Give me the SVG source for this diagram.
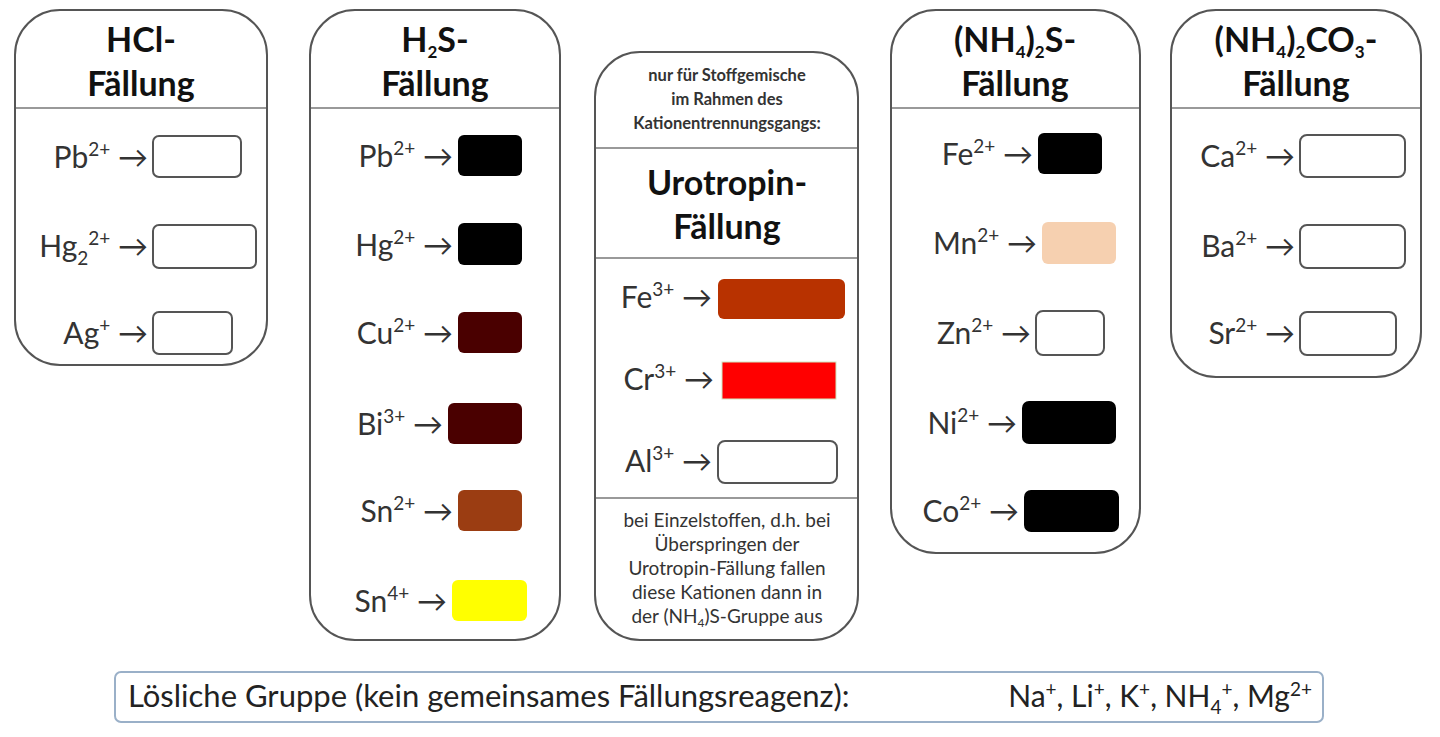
<svg xmlns="http://www.w3.org/2000/svg" width="1440" height="737" viewBox="0 0 1440 737">
<style>
.panel{fill:#fff;stroke:#555;stroke-width:2}
.div{stroke:#999;stroke-width:2}
.t{font-family:Lato,"Open Sans",sans-serif;font-weight:bold;font-size:34px;fill:#111;text-anchor:middle}
.l{font-family:Lato,"Open Sans",sans-serif;font-size:30px;fill:#333;text-anchor:end}
.s{font-family:Lato,"Open Sans",sans-serif;font-size:19px;fill:#333;text-anchor:middle}
.sb{font-family:Lato,"Open Sans",sans-serif;font-size:16.5px;font-weight:bold;fill:#333;text-anchor:middle}
.box{stroke:#555;stroke-width:2}
.sup{font-size:19px}
.sub{font-size:17px}
</style>
<rect width="1440" height="737" fill="#fff"/>
<g id="hcl">
<rect class="panel" x="15" y="10" width="252" height="355" rx="45"/>
<line class="div" x1="16" y1="108" x2="266" y2="108"/>
<text class="t" x="141" y="52">HCl-</text><text class="t" x="141" y="96">Fällung</text>
<text class="l" x="148" y="168">Pb<tspan class="sup" dy="-12">2+</tspan><tspan dy="12"> →</tspan></text>
<rect class="box" x="153" y="136" width="88" height="41" rx="6" fill="#fff"/>
<text class="l" x="148" y="257">Hg<tspan class="sup" dy="8">2</tspan><tspan class="sup" dy="-20">2+</tspan><tspan dy="12"> →</tspan></text>
<rect class="box" x="153" y="225" width="103" height="43" rx="6" fill="#fff"/>
<text class="l" x="148" y="344">Ag<tspan class="sup" dy="-12">+</tspan><tspan dy="12"> →</tspan></text>
<rect class="box" x="153" y="312" width="79" height="42" rx="6" fill="#fff"/>
</g>
<g id="h2s">
<rect class="panel" x="310" y="10" width="250" height="630" rx="45"/>
<line class="div" x1="311" y1="108" x2="559" y2="108"/>
<text class="t" x="435" y="52">H<tspan class="sub" dy="6">2</tspan><tspan dy="-6">S-</tspan></text><text class="t" x="435" y="96">Fällung</text>
<text class="l" x="453" y="167">Pb<tspan class="sup" dy="-12">2+</tspan><tspan dy="12"> →</tspan></text>
<rect x="458" y="135" width="64" height="41" rx="6" fill="#000"/>
<text class="l" x="453" y="256">Hg<tspan class="sup" dy="-12">2+</tspan><tspan dy="12"> →</tspan></text>
<rect x="458" y="223" width="64" height="42" rx="6" fill="#000"/>
<text class="l" x="453" y="344">Cu<tspan class="sup" dy="-12">2+</tspan><tspan dy="12"> →</tspan></text>
<rect x="458" y="312" width="64" height="41" rx="6" fill="#4a0000"/>
<text class="l" x="443" y="435">Bi<tspan class="sup" dy="-12">3+</tspan><tspan dy="12"> →</tspan></text>
<rect x="448" y="403" width="74" height="41" rx="6" fill="#4a0000"/>
<text class="l" x="453" y="522">Sn<tspan class="sup" dy="-12">2+</tspan><tspan dy="12"> →</tspan></text>
<rect x="458" y="490" width="64" height="41" rx="6" fill="#9b3d12"/>
<text class="l" x="447" y="612">Sn<tspan class="sup" dy="-12">4+</tspan><tspan dy="12"> →</tspan></text>
<rect x="452" y="580" width="75" height="41" rx="6" fill="#ffff00"/>
</g>
<g id="urotropin">
<rect class="panel" x="595" y="52" width="263" height="588" rx="45"/>
<line class="div" x1="596" y1="148" x2="857" y2="148"/>
<line class="div" x1="596" y1="258" x2="857" y2="258"/>
<line class="div" x1="596" y1="498" x2="857" y2="498"/>
<text class="sb" x="727" y="81">nur für Stoffgemische</text>
<text class="sb" x="727" y="105">im Rahmen des</text>
<text class="sb" x="727" y="129">Kationentrennungsgangs:</text>
<text class="t" x="727" y="195">Urotropin-</text><text class="t" x="727" y="239">Fällung</text>
<text class="l" x="712" y="308">Fe<tspan class="sup" dy="-12">3+</tspan><tspan dy="12"> →</tspan></text>
<rect x="718" y="279" width="127" height="40" rx="6" fill="#b83200"/>
<text class="l" x="714" y="390">Cr<tspan class="sup" dy="-12">3+</tspan><tspan dy="12"> →</tspan></text>
<rect x="722" y="362" width="114" height="37" fill="#ff0000" stroke="#cde8c0" stroke-width="1"/>
<text class="l" x="712" y="472">Al<tspan class="sup" dy="-12">3+</tspan><tspan dy="12"> →</tspan></text>
<rect class="box" x="718" y="441" width="119" height="42" rx="7" fill="#fff"/>
<text class="s" x="727" y="527">bei Einzelstoffen, d.h. bei</text>
<text class="s" x="727" y="551">Überspringen der</text>
<text class="s" x="727" y="575">Urotropin-Fällung fallen</text>
<text class="s" x="727" y="599">diese Kationen dann in</text>
<text class="s" x="727" y="623">der (NH<tspan font-size="12" dy="4">4</tspan><tspan dy="-4">)S-Gruppe aus</tspan></text>
</g>
<g id="nh4s">
<rect class="panel" x="891" y="10" width="249" height="543" rx="45"/>
<line class="div" x1="892" y1="108" x2="1139" y2="108"/>
<text class="t" x="1015" y="52">(NH<tspan class="sub" dy="6">4</tspan><tspan dy="-6">)</tspan><tspan class="sub" dy="6">2</tspan><tspan dy="-6">S-</tspan></text><text class="t" x="1015" y="96">Fällung</text>
<text class="l" x="1033" y="165">Fe<tspan class="sup" dy="-12">2+</tspan><tspan dy="12"> →</tspan></text>
<rect x="1038" y="133" width="64" height="41" rx="6" fill="#000"/>
<text class="l" x="1037" y="254">Mn<tspan class="sup" dy="-12">2+</tspan><tspan dy="12"> →</tspan></text>
<rect x="1042" y="222" width="74" height="42" rx="6" fill="#f6d0b0"/>
<text class="l" x="1031" y="344">Zn<tspan class="sup" dy="-12">2+</tspan><tspan dy="12"> →</tspan></text>
<rect class="box" x="1036" y="311" width="68" height="44" rx="7" fill="#fff"/>
<text class="l" x="1017" y="434">Ni<tspan class="sup" dy="-12">2+</tspan><tspan dy="12"> →</tspan></text>
<rect x="1022" y="401" width="94" height="43" rx="7" fill="#000"/>
<text class="l" x="1019" y="522">Co<tspan class="sup" dy="-12">2+</tspan><tspan dy="12"> →</tspan></text>
<rect x="1024" y="490" width="95" height="42" rx="7" fill="#000"/>
</g>
<g id="nh4co3">
<rect class="panel" x="1171" y="10" width="250" height="367" rx="45"/>
<line class="div" x1="1172" y1="108" x2="1420" y2="108"/>
<text class="t" x="1296" y="52">(NH<tspan class="sub" dy="6">4</tspan><tspan dy="-6">)</tspan><tspan class="sub" dy="6">2</tspan><tspan dy="-6">CO</tspan><tspan class="sub" dy="6">3</tspan><tspan dy="-6">-</tspan></text><text class="t" x="1296" y="96">Fällung</text>
<text class="l" x="1295" y="167">Ca<tspan class="sup" dy="-12">2+</tspan><tspan dy="12"> →</tspan></text>
<rect class="box" x="1300" y="135" width="105" height="42" rx="7" fill="#fff"/>
<text class="l" x="1295" y="257">Ba<tspan class="sup" dy="-12">2+</tspan><tspan dy="12"> →</tspan></text>
<rect class="box" x="1300" y="225" width="105" height="43" rx="7" fill="#fff"/>
<text class="l" x="1295" y="344">Sr<tspan class="sup" dy="-12">2+</tspan><tspan dy="12"> →</tspan></text>
<rect class="box" x="1300" y="312" width="96" height="43" rx="7" fill="#fff"/>
</g>
<g id="loesliche">
<rect x="115" y="672" width="1208" height="50" rx="6" fill="#fff" stroke="#9ab0c8" stroke-width="2"/>
<text font-family="Lato,'Open Sans',sans-serif" font-size="31" fill="#222" x="128" y="707">Lösliche Gruppe (kein gemeinsames Fällungsreagenz):</text>
<text font-family="Lato,'Open Sans',sans-serif" font-size="30" fill="#222" x="1312" y="707" text-anchor="end">Na<tspan class="sup" dy="-11">+</tspan><tspan dy="11">, Li</tspan><tspan class="sup" dy="-11">+</tspan><tspan dy="11">, K</tspan><tspan class="sup" dy="-11">+</tspan><tspan dy="11">, NH</tspan><tspan class="sup" dy="7">4</tspan><tspan class="sup" dy="-18">+</tspan><tspan dy="11">, Mg</tspan><tspan class="sup" dy="-11">2+</tspan></text>
</g>
<g id="connectors"/>
</svg>
